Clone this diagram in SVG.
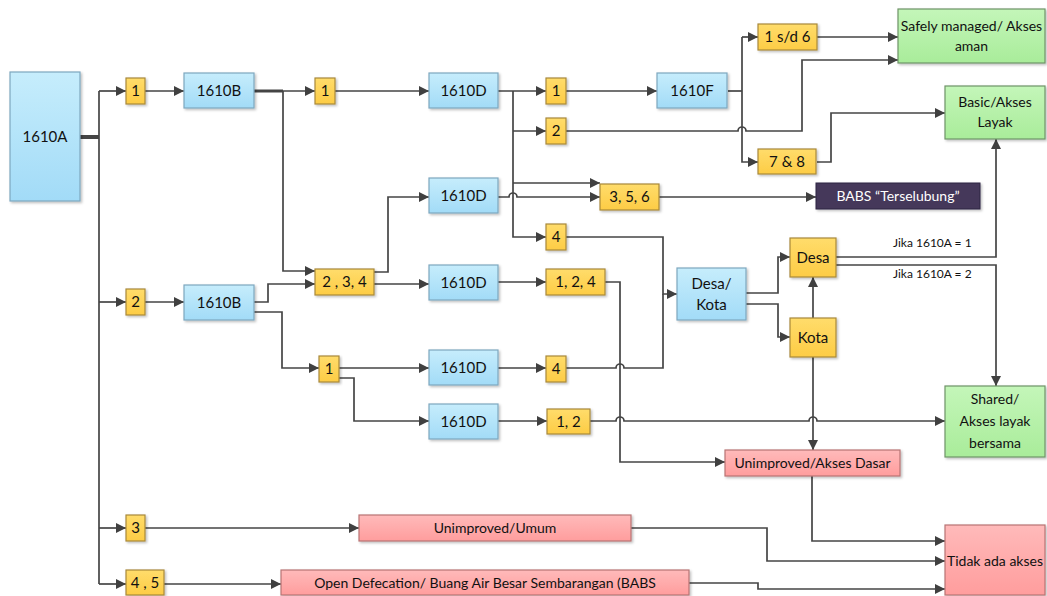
<svg xmlns="http://www.w3.org/2000/svg" width="1047" height="596" viewBox="0 0 1047 596">
<defs>
<linearGradient id="gb" x1="0" y1="0" x2="0" y2="1"><stop offset="0" stop-color="#c6edfc"/><stop offset="1" stop-color="#a2dbf7"/></linearGradient>
<linearGradient id="gy" x1="0" y1="0" x2="0" y2="1"><stop offset="0" stop-color="#ffdc6b"/><stop offset="1" stop-color="#fdcc45"/></linearGradient>
<linearGradient id="gg" x1="0" y1="0" x2="0" y2="1"><stop offset="0" stop-color="#c4f6b9"/><stop offset="1" stop-color="#a9ec9a"/></linearGradient>
<linearGradient id="gr" x1="0" y1="0" x2="0" y2="1"><stop offset="0" stop-color="#ffbaba"/><stop offset="1" stop-color="#ff9d9d"/></linearGradient>
<filter id="sh" x="-10%" y="-10%" width="130%" height="140%"><feDropShadow dx="1.5" dy="1.5" stdDeviation="1" flood-color="#000" flood-opacity="0.25"/></filter>
<marker id="ar" markerUnits="userSpaceOnUse" markerWidth="10" markerHeight="10" viewBox="0 0 10 10" refX="10" refY="5" orient="auto"><path d="M0,0 L10,5 L0,10 z" fill="#404040"/></marker>
</defs>
<style>
.b{fill:url(#gb);stroke:#7ea7bf;stroke-width:1.2;filter:url(#sh)}
.y{fill:url(#gy);stroke:#a8893a;stroke-width:1.2;filter:url(#sh)}
.g{fill:url(#gg);stroke:#6f9468;stroke-width:1.2;filter:url(#sh)}
.r{fill:url(#gr);stroke:#b87474;stroke-width:1.2;filter:url(#sh)}
.p{fill:#44385a;stroke:#2f2740;stroke-width:1;filter:url(#sh)}
text{font-family:Lato,"Liberation Sans",sans-serif;font-size:15px;fill:#111;text-anchor:middle}
.t{font-size:14px}
.w{fill:#fff}
.s{font-size:12px;text-anchor:start}
.c path{fill:none;stroke:#454545;stroke-width:1.7}
.c path.a{marker-end:url(#ar)}
</style>
<g class="c" id="connectors">
<path d="M80,137 H99" style="stroke-width:4"/>
<path d="M99,91 V584"/>
<path class="a" d="M99,91 H126"/>
<path class="a" d="M99,302 H126"/>
<path class="a" d="M99,528 H126"/>
<path class="a" d="M99,584 H126"/>
<path class="a" d="M145,91 H184"/>
<path d="M254,91 H283" style="stroke-width:3"/>
<path class="a" d="M254,91 H315"/>
<path class="a" d="M283,91 V271 H315"/>
<path class="a" d="M335,91 H429"/>
<path class="a" d="M498,91 H546"/>
<path class="a" d="M513,91 V237 H546"/>
<path class="a" d="M513,131 H546"/>
<path class="a" d="M513,183 H600"/>
<path class="a" d="M498,197 H509 a4,4 0 0 1 8,0 H600"/>
<path class="a" d="M566,91 H657"/>
<path d="M728,91 H742"/>
<path class="a" d="M742,37 V162 H758"/>
<path class="a" d="M742,37 H758"/>
<path class="a" d="M817,37 H898"/>
<path class="a" d="M566,131 H738 a4,4 0 0 1 8,0 H802 V60 H898"/>
<path class="a" d="M817,162 H831 V113 H945"/>
<path class="a" d="M659,197 H816"/>
<path class="a" d="M566,237 H663 V294 H677"/>
<path d="M566,368 H616 a4,4 0 0 1 8,0 H663 V294"/>
<path class="a" d="M145,302 H184"/>
<path class="a" d="M254,302 H268 V284 H315"/>
<path class="a" d="M254,312 H282 V368 H319"/>
<path class="a" d="M374,284 H429"/>
<path class="a" d="M374,272 H388 V197 H429"/>
<path class="a" d="M498,282 H546"/>
<path class="a" d="M605,282 H620 V462 H725"/>
<path class="a" d="M339,368 H429"/>
<path class="a" d="M339,378 H354 V421 H429"/>
<path class="a" d="M498,368 H546"/>
<path class="a" d="M498,421 H547"/>
<path class="a" d="M590,421 H616 a4,4 0 0 1 8,0 H809 a4,4 0 0 1 8,0 H945"/>
<path class="a" d="M746,293 H778 V257 H790"/>
<path class="a" d="M746,304 H778 V337 H790"/>
<path class="a" d="M813,318 V277"/>
<path class="a" d="M813,357 V450"/>
<path class="a" d="M836,257 H996 V139"/>
<path class="a" d="M836,265 H996 V386"/>
<path class="a" d="M812,476 V541 H945"/>
<path class="a" d="M631,528 H767 V561 H945"/>
<path class="a" d="M145,528 H359"/>
<path class="a" d="M164,584 H281"/>
<path class="a" d="M688,583 H758 V589 H945"/>
</g>
<g id="n1610A"><rect class="b" x="10" y="72" width="70" height="129"/><text x="45" y="142">1610A</text></g>
<g id="nA1"><rect class="y" x="126" y="78" width="19" height="26"/><text x="135.5" y="96">1</text></g>
<g id="n1610B1"><rect class="b" x="184" y="73" width="70" height="35"/><text x="219" y="96">1610B</text></g>
<g id="nB1"><rect class="y" x="315" y="78" width="20" height="26"/><text x="325" y="96">1</text></g>
<g id="n1610D1"><rect class="b" x="429" y="73" width="69" height="35"/><text x="463.5" y="96">1610D</text></g>
<g id="nD1"><rect class="y" x="546" y="78" width="20" height="26"/><text x="556" y="96">1</text></g>
<g id="nD2"><rect class="y" x="546" y="118" width="20" height="26"/><text x="556" y="136">2</text></g>
<g id="nD4"><rect class="y" x="546" y="224" width="20" height="26"/><text x="556" y="242">4</text></g>
<g id="n1610F"><rect class="b" x="657" y="73" width="70" height="35"/><text x="692" y="96">1610F</text></g>
<g id="nF16"><rect class="y" x="758" y="24" width="59" height="26"/><text x="787.5" y="42">1 s/d 6</text></g>
<g id="nF78"><rect class="y" x="758" y="149" width="58" height="25"/><text x="787" y="167">7 &amp; 8</text></g>
<g id="nSafe"><rect class="g" x="898" y="9" width="147" height="54"/><text class="t" x="971.5" y="31">Safely managed/ Akses</text><text class="t" x="971.5" y="51">aman</text></g>
<g id="nBasic"><rect class="g" x="945" y="86" width="100" height="53"/><text class="t" x="995" y="107">Basic/Akses</text><text class="t" x="995" y="127">Layak</text></g>
<g id="n1610D2"><rect class="b" x="429" y="178" width="69" height="35"/><text x="463.5" y="201">1610D</text></g>
<g id="n356"><rect class="y" x="600" y="184" width="59" height="26"/><text x="629.5" y="202">3, 5, 6</text></g>
<g id="nBABS"><rect class="p" x="816" y="183" width="164" height="26"/><text class="w t" x="898" y="201">BABS “Terselubung”</text></g>
<g id="nA2"><rect class="y" x="126" y="289" width="19" height="26"/><text x="135.5" y="307">2</text></g>
<g id="n1610B2"><rect class="b" x="184" y="285" width="70" height="35"/><text x="219" y="308">1610B</text></g>
<g id="n234"><rect class="y" x="315" y="269" width="59" height="26"/><text x="344.5" y="287">2 , 3, 4</text></g>
<g id="n1610D3"><rect class="b" x="429" y="265" width="69" height="35"/><text x="463.5" y="288">1610D</text></g>
<g id="n124"><rect class="y" x="546" y="269" width="59" height="26"/><text x="575.5" y="287">1, 2, 4</text></g>
<g id="nB21"><rect class="y" x="319" y="356" width="20" height="26"/><text x="329" y="374">1</text></g>
<g id="n1610D4"><rect class="b" x="429" y="350" width="69" height="35"/><text x="463.5" y="373">1610D</text></g>
<g id="nD44"><rect class="y" x="546" y="356" width="20" height="26"/><text x="556" y="374">4</text></g>
<g id="n1610D5"><rect class="b" x="429" y="404" width="69" height="35"/><text x="463.5" y="427">1610D</text></g>
<g id="n12"><rect class="y" x="547" y="409" width="43" height="25"/><text x="568.5" y="427">1, 2</text></g>
<g id="nDesaKota"><rect class="b" x="677" y="268" width="69" height="52"/><text x="711.5" y="289">Desa/</text><text x="711.5" y="310">Kota</text></g>
<g id="nDesa"><rect class="y" x="790" y="238" width="46" height="39"/><text x="813" y="263">Desa</text></g>
<g id="nKota"><rect class="y" x="790" y="318" width="46" height="39"/><text x="813" y="343">Kota</text></g>
<g id="lbl1"><text class="s" x="893" y="247">Jika 1610A = 1</text></g>
<g id="lbl2"><text class="s" x="893" y="278">Jika 1610A = 2</text></g>
<g id="nShared"><rect class="g" x="945" y="386" width="100" height="71"/><text class="t" x="995" y="404">Shared/</text><text class="t" x="995" y="426">Akses layak</text><text class="t" x="995" y="448">bersama</text></g>
<g id="nUAD"><rect class="r" x="725" y="450" width="175" height="26"/><text class="t" x="812.5" y="468">Unimproved/Akses Dasar</text></g>
<g id="nA3"><rect class="y" x="126" y="515" width="19" height="26"/><text x="135.5" y="533">3</text></g>
<g id="nUU"><rect class="r" x="359" y="515" width="272" height="26"/><text class="t" x="495" y="533">Unimproved/Umum</text></g>
<g id="nA45"><rect class="y" x="126" y="570" width="38" height="25"/><text x="145" y="588">4 , 5</text></g>
<g id="nOD"><rect class="r" x="281" y="570" width="408" height="25"/><text class="t" x="485" y="588">Open Defecation/ Buang Air Besar Sembarangan (BABS</text></g>
<g id="nTidak"><rect class="r" x="945" y="525" width="100" height="70"/><text class="t" x="995" y="566">Tidak ada akses</text></g>
</svg>
